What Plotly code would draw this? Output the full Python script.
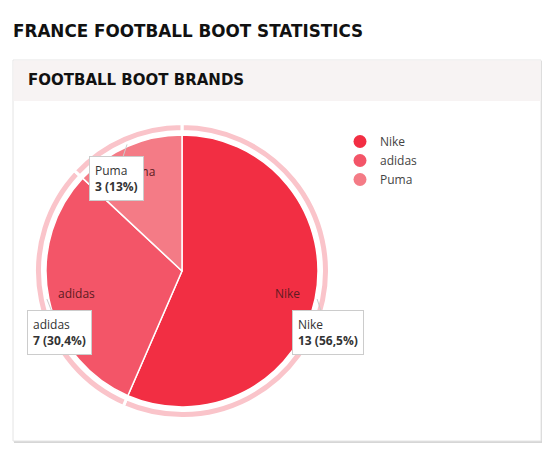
import math
import plotly.graph_objects as go

# Data
brands = ['Nike', 'adidas', 'Puma']
counts = [13, 7, 3]
pct_labels = ['56,5%', '30,4%', '13%']

slice_colors = ['#F22E43', '#F35568', '#F47B86']
ring_color = '#FAC4CA'

# page has an 8px body margin, so the figure is a bit smaller than the window
PAD = 8
W, H = 550 - PAD, 451 - PAD
cx, cy, R = 182, 271, 136   # pie centre / radius in window pixels
R_ring = 147.5


def px_x(x):
    return (x - PAD) / W


def px_y(y):
    return 1 - (y - PAD) / H


def domain(r):
    return dict(x=[px_x(cx - r), px_x(cx + r)], y=[px_y(cy + r), px_y(cy - r)])


fig = go.Figure()

# outer light ring
fig.add_trace(go.Pie(
    labels=brands, values=counts, sort=False, direction='clockwise',
    domain=domain(R_ring), hole=139.5 / R_ring, textinfo='none', hoverinfo='skip',
    marker=dict(colors=[ring_color] * 3, line=dict(color='white', width=3)),
    showlegend=False,
))

# main pie
fig.add_trace(go.Pie(
    labels=brands, values=counts, sort=False, direction='clockwise',
    domain=domain(R), textinfo='none',
    marker=dict(colors=slice_colors, line=dict(color='white', width=1.5)),
    showlegend=False,
))

# legend with round markers
for b, c in zip(brands, slice_colors):
    fig.add_trace(go.Scatter(x=[None], y=[None], mode='markers', name=b,
                             marker=dict(color=c, size=13, symbol='circle')))

# slice labels and callout boxes
total = sum(counts)
start = 0
box_offsets = {'Nike': (11, 33), 'adidas': (13, 33), 'Puma': (-11, 34)}
for b, v, p in zip(brands, counts, pct_labels):
    mid = (start + v / 2) / total * 2 * math.pi
    start += v
    sx, sy = math.sin(mid), -math.cos(mid)
    # inner label
    fig.add_annotation(x=px_x(cx + sx * R * 0.79), y=px_y(cy + sy * R * 0.8),
                       xref='paper', yref='paper', text=b, showarrow=False,
                       xanchor='center', yanchor='middle',
                       font=dict(family='Open Sans', size=12, color='#5e1b22'))
    # callout
    ax, ay = box_offsets[b]
    fig.add_annotation(x=px_x(cx + sx * (R + 2)), y=px_y(cy + sy * (R + 2)),
                       xref='paper', yref='paper',
                       text=f'{b}<br><b>{v} ({p})</b>', align='left',
                       showarrow=True, arrowhead=0, arrowwidth=1, arrowcolor='#cccccc',
                       ax=ax, ay=ay, bgcolor='white', bordercolor='#cccccc',
                       borderwidth=1, borderpad=5,
                       font=dict(family='Open Sans', size=12, color='#333333'))

# titles
fig.add_annotation(x=px_x(11), y=px_y(31), xref='paper', yref='paper',
                   xanchor='left', yanchor='middle', showarrow=False,
                   text='<b>FRANCE FOOTBALL BOOT STATISTICS</b>',
                   font=dict(family='DejaVu Sans', size=16.8, color='#111111'))
fig.add_annotation(x=px_x(26), y=px_y(80), xref='paper', yref='paper',
                   xanchor='left', yanchor='middle', showarrow=False,
                   text='<b>FOOTBALL BOOT BRANDS</b>',
                   font=dict(family='DejaVu Sans', size=15, color='#111111'))

# card
shapes = [
    dict(type='rect', xref='paper', yref='paper', layer='below',
         x0=px_x(14), x1=px_x(543), y0=px_y(443), y1=px_y(61),
         fillcolor='#d6d6d6', line=dict(width=0)),
    dict(type='rect', xref='paper', yref='paper', layer='below',
         x0=px_x(13), x1=px_x(541), y0=px_y(441), y1=px_y(60),
         fillcolor='white', line=dict(color='#e4e4e4', width=1)),
    dict(type='rect', xref='paper', yref='paper', layer='below',
         x0=px_x(13.5), x1=px_x(540.5), y0=px_y(101), y1=px_y(60.5),
         fillcolor='#F7F3F3', line=dict(width=0)),
]

fig.update_layout(
    width=W, height=H, margin=dict(l=0, r=0, t=0, b=0),
    paper_bgcolor='white', plot_bgcolor='rgba(0,0,0,0)',
    shapes=shapes,
    xaxis=dict(visible=False), yaxis=dict(visible=False),
    legend=dict(x=px_x(340), y=px_y(127), xanchor='left', yanchor='top',
                bgcolor='rgba(0,0,0,0)', tracegroupgap=0,
                font=dict(family='Open Sans', size=12, color='#444444'),
                itemwidth=30),
)

fig.write_html('out.html')
